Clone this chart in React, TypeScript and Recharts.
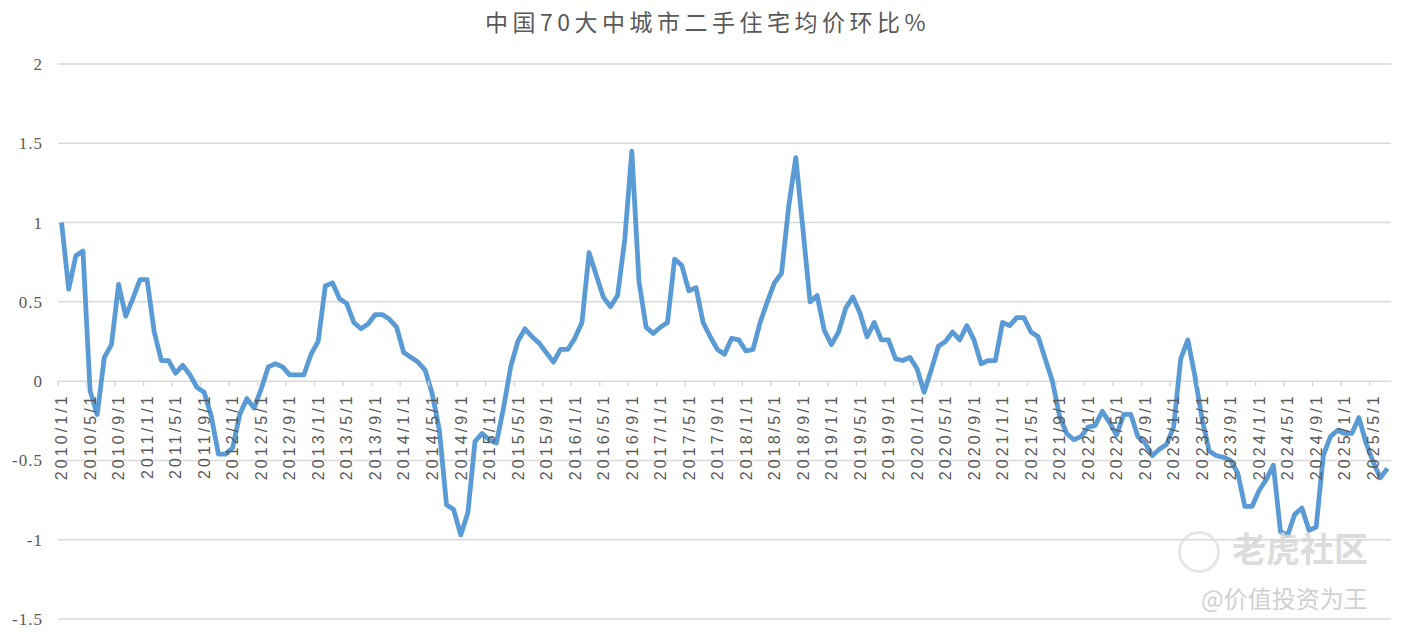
import { LineChart, Line, XAxis, YAxis, CartesianGrid } from "recharts";

// 中国70大中城市二手住宅均价环比 (%), monthly
const START_YEAR = 2010;
const v2010 = [1.0, 0.58, 0.79, 0.82, -0.06, -0.21, 0.15, 0.23, 0.61, 0.41, 0.52, 0.64];
const v2011 = [0.64, 0.31, 0.13, 0.13, 0.05, 0.1, 0.04, -0.04, -0.07, -0.22, -0.46, -0.46];
const v2012 = [-0.42, -0.21, -0.11, -0.17, -0.05, 0.09, 0.11, 0.09, 0.04, 0.04, 0.04, 0.17];
const v2013 = [0.25, 0.6, 0.62, 0.52, 0.49, 0.37, 0.33, 0.36, 0.42, 0.42, 0.39, 0.34];
const v2014 = [0.18, 0.15, 0.12, 0.07, -0.08, -0.31, -0.78, -0.81, -0.97, -0.83, -0.38, -0.33];
const v2015 = [-0.37, -0.39, -0.17, 0.09, 0.25, 0.33, 0.28, 0.24, 0.18, 0.12, 0.2, 0.2];
const v2016 = [0.27, 0.37, 0.81, 0.67, 0.53, 0.47, 0.54, 0.89, 1.45, 0.63, 0.34, 0.3];
const v2017 = [0.34, 0.37, 0.77, 0.73, 0.57, 0.59, 0.37, 0.28, 0.2, 0.17, 0.27, 0.26];
const v2018 = [0.19, 0.2, 0.37, 0.5, 0.62, 0.68, 1.1, 1.41, 0.96, 0.5, 0.54, 0.32];
const v2019 = [0.23, 0.31, 0.46, 0.53, 0.43, 0.28, 0.37, 0.26, 0.26, 0.14, 0.13, 0.15];
const v2020 = [0.08, -0.07, 0.07, 0.22, 0.25, 0.31, 0.26, 0.35, 0.26, 0.11, 0.13, 0.13];
const v2021 = [0.37, 0.35, 0.4, 0.4, 0.31, 0.28, 0.14, 0.0, -0.22, -0.33, -0.37, -0.35];
const v2022 = [-0.29, -0.28, -0.19, -0.26, -0.34, -0.21, -0.21, -0.35, -0.39, -0.47, -0.43, -0.4];
const v2023 = [-0.29, 0.14, 0.26, 0.03, -0.24, -0.44, -0.47, -0.48, -0.5, -0.58, -0.79, -0.79];
const v2024 = [-0.69, -0.62, -0.53, -0.95, -0.97, -0.84, -0.8, -0.94, -0.92, -0.47, -0.35, -0.31];
const v2025 = [-0.33, -0.33, -0.23, -0.39, -0.51, -0.61, -0.55];

const YEARS = [v2010, v2011, v2012, v2013, v2014, v2015, v2016, v2017, v2018, v2019, v2020, v2021, v2022, v2023, v2024, v2025];
const Y_TICKS = [-1.5, -1, -0.5, 0, 0.5, 1, 1.5, 2];
const TITLE = "中国70大中城市二手住宅均价环比%";

const data: { date: string; value: number }[] = [];
YEARS.forEach((vals, k) =>
  vals.forEach((v, m) => data.push({ date: `${START_YEAR + k}/${m + 1}/1`, value: v }))
);

const W = 1401;
const H = 632;
const X_AXIS_H = 2;
const MARGIN = { top: 64, right: 10, bottom: 11, left: 8 };
const Y_AXIS_W = 50;
const PLOT_W = W - MARGIN.left - MARGIN.right - Y_AXIS_W;
const PLOT_H = H - MARGIN.top - MARGIN.bottom - X_AXIS_H;
const HALF_STEP = PLOT_W / data.length / 2;
const ZERO_Y = MARGIN.top + (2 / 3.5) * PLOT_H;

const TEXT = "#595959";
const GRID = "#d9d9d9";
const LINE = "#5b9bd5";

function DateTick(props: any) {
  const { x, payload } = props;
  if (x == null || !payload) return <g />;
  return (
    <g>
      <line x1={x - HALF_STEP} x2={x - HALF_STEP} y1={ZERO_Y} y2={ZERO_Y + 5} stroke={GRID} strokeWidth={1.5} />
      <text
        transform={`translate(${x},${ZERO_Y + 12}) rotate(-90)`}
        textAnchor="end"
        dy="0.36em"
        fill={TEXT}
        fontSize={16}
        letterSpacing={3.1}
        fontFamily="'Liberation Sans', Arial, sans-serif"
      >
        {payload.value}
      </text>
    </g>
  );
}

export default function App() {
  return (
    <div style={{ position: "absolute", left: 0, top: 0, width: W, height: H, background: "#fff" }}>
      <div
        style={{
          position: "absolute",
          left: 7,
          top: 5,
          width: W,
          textAlign: "center",
          fontFamily: "'Noto Sans CJK SC', sans-serif",
          fontSize: 23,
          letterSpacing: 4.5,
          color: TEXT,
          lineHeight: "32px",
        }}
      >
        {TITLE}
      </div>
      <LineChart width={W} height={H} data={data} margin={MARGIN}>
        <CartesianGrid horizontal vertical={false} stroke={GRID} strokeWidth={1.5} />
        <XAxis
          dataKey="date"
          height={X_AXIS_H}
          interval={3}
          axisLine={false}
          tickLine={false}
          padding={{ left: HALF_STEP, right: HALF_STEP }}
          tick={(p: any) => <DateTick {...p} />}
        />
        <YAxis
          width={Y_AXIS_W}
          domain={[-1.5, 2]}
          ticks={Y_TICKS}
          axisLine={false}
          tickLine={false}
          tickMargin={9}
          tick={{ fill: TEXT, fontSize: 17, fontFamily: "'Liberation Serif', serif", letterSpacing: 1 }}
        />
        <Line
          type="linear"
          dataKey="value"
          stroke={LINE}
          strokeWidth={4.8}
          strokeLinejoin="round"
          dot={false}
          isAnimationActive={false}
        />
      </LineChart>
      <div style={{ position: "absolute", left: 1178, top: 531, width: 36, height: 36, borderRadius: "50%", border: "3px solid #dedede", opacity: 0.8 }} />
      <div
        style={{
          position: "absolute",
          left: 1232,
          top: 526,
          fontFamily: "'Noto Sans CJK SC', sans-serif",
          fontSize: 34,
          fontWeight: 700,
          color: "#d6d6d6",
          opacity: 0.85,
          lineHeight: "44px",
        }}
      >
        老虎社区
      </div>
      <div
        style={{
          position: "absolute",
          left: 1201,
          top: 582,
          fontFamily: "'Noto Sans CJK SC', sans-serif",
          fontSize: 24,
          color: "#d0d0d0",
          lineHeight: "32px",
        }}
      >
        @价值投资为王
      </div>
    </div>
  );
}
